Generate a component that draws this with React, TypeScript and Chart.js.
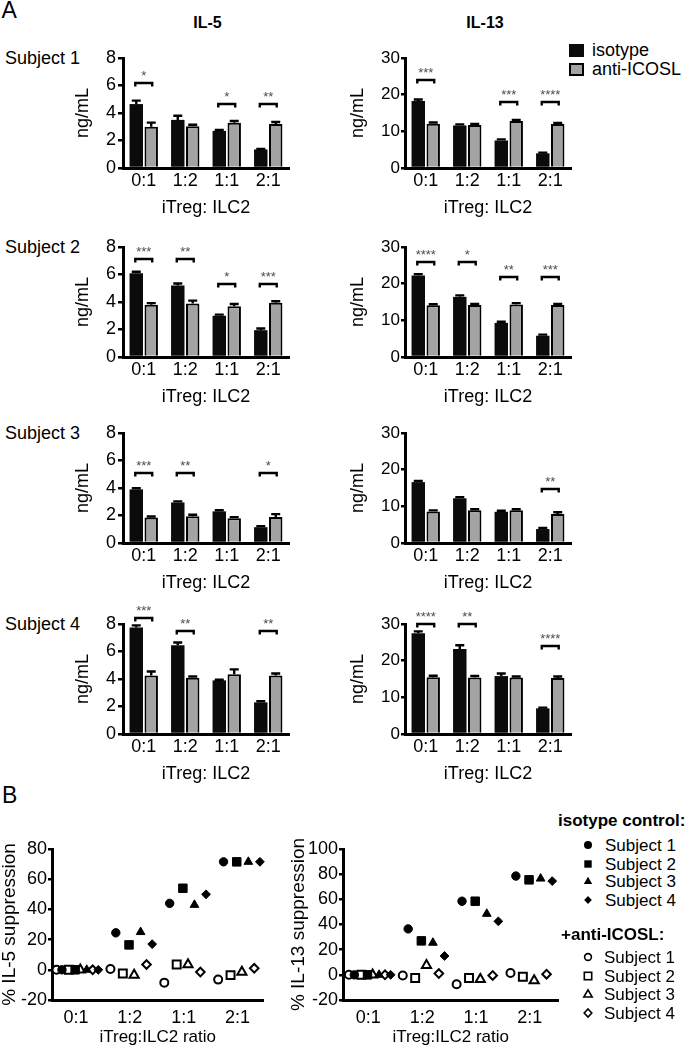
import React, { useEffect, useRef } from 'react';
import { Chart, registerables } from 'chart.js';

Chart.register(...registerables);

const FONT = '"Liberation Sans", Arial, Helvetica, sans-serif';
Chart.defaults.font.family = FONT;
Chart.defaults.color = '#000';

// ---------------- DATA ----------------
const RATIOS = ['0:1', '1:2', '1:1', '2:1'];
const SUBJECTS = ['Subject 1', 'Subject 2', 'Subject 3', 'Subject 4'];

// Panel A, IL-5 (ng/mL)
const IL5_S1_ISO = [4.65, 3.5, 2.7, 1.35];
const IL5_S1_ISO_ERR = [0.25, 0.3, 0.06, 0.04];
const IL5_S1_ANTI = [3.0, 3.03, 3.3, 3.2];
const IL5_S1_ANTI_ERR = [0.3, 0.12, 0.12, 0.15];
const IL5_S1_SIG = ['*', '', '*', '**'];
const IL5_S1_SIG_Y = [6.2, null, 4.65, 4.65];

const IL5_S2_ISO = [6.1, 5.2, 3.0, 1.95];
const IL5_S2_ISO_ERR = [0.1, 0.15, 0.08, 0.12];
const IL5_S2_ANTI = [3.8, 3.9, 3.7, 3.95];
const IL5_S2_ANTI_ERR = [0.12, 0.2, 0.15, 0.1];
const IL5_S2_SIG = ['***', '**', '*', '***'];
const IL5_S2_SIG_Y = [7.15, 7.15, 5.3, 5.3];

const IL5_S3_ISO = [3.9, 2.95, 2.3, 1.15];
const IL5_S3_ISO_ERR = [0.08, 0.08, 0.08, 0.08];
const IL5_S3_ANTI = [1.85, 1.95, 1.8, 1.9];
const IL5_S3_ANTI_ERR = [0.08, 0.1, 0.08, 0.2];
const IL5_S3_SIG = ['***', '**', '', '*'];
const IL5_S3_SIG_Y = [5.1, 5.1, null, 5.1];

const IL5_S4_ISO = [7.75, 6.45, 3.9, 2.3];
const IL5_S4_ISO_ERR = [0.15, 0.2, 0.05, 0.08];
const IL5_S4_ANTI = [4.25, 4.1, 4.35, 4.25];
const IL5_S4_ANTI_ERR = [0.3, 0.08, 0.35, 0.15];
const IL5_S4_SIG = ['***', '**', '', '**'];
const IL5_S4_SIG_Y = [8.4, 7.5, null, 7.5];

// Panel A, IL-13 (ng/mL)
const IL13_S1_ISO = [18.3, 11.6, 7.5, 4.0];
const IL13_S1_ISO_ERR = [0.4, 0.3, 0.3, 0.2];
const IL13_S1_ANTI = [12.1, 11.7, 12.8, 12.0];
const IL13_S1_ANTI_ERR = [0.3, 0.3, 0.3, 0.3];
const IL13_S1_SIG = ['***', '', '***', '****'];
const IL13_S1_SIG_Y = [24, null, 18.1, 18.1];

const IL13_S2_ISO = [22.2, 16.4, 9.3, 5.8];
const IL13_S2_ISO_ERR = [0.4, 0.4, 0.3, 0.3];
const IL13_S2_ANTI = [14.1, 14.2, 14.3, 14.2];
const IL13_S2_ANTI_ERR = [0.3, 0.3, 0.4, 0.3];
const IL13_S2_SIG = ['****', '*', '**', '***'];
const IL13_S2_SIG_Y = [25.8, 25.8, 21.9, 21.9];

const IL13_S3_ISO = [16.6, 12.2, 8.5, 3.8];
const IL13_S3_ISO_ERR = [0.3, 0.3, 0.3, 0.3];
const IL13_S3_ANTI = [8.6, 8.9, 8.9, 7.9];
const IL13_S3_ANTI_ERR = [0.3, 0.3, 0.3, 0.5];
const IL13_S3_SIG = ['', '', '', '**'];
const IL13_S3_SIG_Y = [null, null, null, 14.6];

const IL13_S4_ISO = [27.5, 23.2, 15.8, 7.0];
const IL13_S4_ISO_ERR = [0.5, 1.0, 0.7, 0.2];
const IL13_S4_ANTI = [15.5, 15.4, 15.4, 15.3];
const IL13_S4_ANTI_ERR = [0.4, 0.4, 0.3, 0.4];
const IL13_S4_SIG = ['****', '**', '', '****'];
const IL13_S4_SIG_Y = [30, 30, null, 24];

// Panel B, % suppression
const SUP5_ISO_S1 = [0, 24.5, 44, 71.5];
const SUP5_ISO_S2 = [0, 16.5, 54, 71.5];
const SUP5_ISO_S3 = [0, 25, 43, 71.5];
const SUP5_ISO_S4 = [0, 17, 50, 71.5];
const SUP5_ANTI_S1 = [0, 0.5, -8.5, -6.5];
const SUP5_ANTI_S2 = [0, -2.5, 3.5, -3.5];
const SUP5_ANTI_S3 = [0, -3.5, 3.5, -1.5];
const SUP5_ANTI_S4 = [0, 3.5, -1.5, 1];

const SUP13_ISO_S1 = [0, 36.5, 58.5, 78.5];
const SUP13_ISO_S2 = [0, 27, 58.5, 75.5];
const SUP13_ISO_S3 = [0, 25.5, 48.5, 76.5];
const SUP13_ISO_S4 = [0, 15, 42.5, 74.5];
const SUP13_ANTI_S1 = [0, -0.5, -7.5, 1.5];
const SUP13_ANTI_S2 = [0, -2.5, -2.5, -1.5];
const SUP13_ANTI_S3 = [0, 7.5, -3.5, -4.5];
const SUP13_ANTI_S4 = [0, 1, -0.5, 0.5];

// ---------------- grouping ----------------
const IL5_ISO = [IL5_S1_ISO, IL5_S2_ISO, IL5_S3_ISO, IL5_S4_ISO];
const IL5_ISO_ERR = [IL5_S1_ISO_ERR, IL5_S2_ISO_ERR, IL5_S3_ISO_ERR, IL5_S4_ISO_ERR];
const IL5_ANTI = [IL5_S1_ANTI, IL5_S2_ANTI, IL5_S3_ANTI, IL5_S4_ANTI];
const IL5_ANTI_ERR = [IL5_S1_ANTI_ERR, IL5_S2_ANTI_ERR, IL5_S3_ANTI_ERR, IL5_S4_ANTI_ERR];
const IL5_SIG = [IL5_S1_SIG, IL5_S2_SIG, IL5_S3_SIG, IL5_S4_SIG];
const IL5_SIG_Y = [IL5_S1_SIG_Y, IL5_S2_SIG_Y, IL5_S3_SIG_Y, IL5_S4_SIG_Y];

const IL13_ISO = [IL13_S1_ISO, IL13_S2_ISO, IL13_S3_ISO, IL13_S4_ISO];
const IL13_ISO_ERR = [IL13_S1_ISO_ERR, IL13_S2_ISO_ERR, IL13_S3_ISO_ERR, IL13_S4_ISO_ERR];
const IL13_ANTI = [IL13_S1_ANTI, IL13_S2_ANTI, IL13_S3_ANTI, IL13_S4_ANTI];
const IL13_ANTI_ERR = [IL13_S1_ANTI_ERR, IL13_S2_ANTI_ERR, IL13_S3_ANTI_ERR, IL13_S4_ANTI_ERR];
const IL13_SIG = [IL13_S1_SIG, IL13_S2_SIG, IL13_S3_SIG, IL13_S4_SIG];
const IL13_SIG_Y = [IL13_S1_SIG_Y, IL13_S2_SIG_Y, IL13_S3_SIG_Y, IL13_S4_SIG_Y];

const SUP5_ISO = [SUP5_ISO_S1, SUP5_ISO_S2, SUP5_ISO_S3, SUP5_ISO_S4];
const SUP5_ANTI = [SUP5_ANTI_S1, SUP5_ANTI_S2, SUP5_ANTI_S3, SUP5_ANTI_S4];
const SUP13_ISO = [SUP13_ISO_S1, SUP13_ISO_S2, SUP13_ISO_S3, SUP13_ISO_S4];
const SUP13_ANTI = [SUP13_ANTI_S1, SUP13_ANTI_S2, SUP13_ANTI_S3, SUP13_ANTI_S4];

// ---------------- styling / layout ----------------
const ISO_COLOR = '#0b0b0b';
const ANTI_COLOR = '#a3a3a3';
const STAR_COLOR = '#4b4b57';
const ROW_TOP = [58, 247, 433, 624];
const PAD_TOP = 30;
const PLOT_H = 110;
const X_H = 51;

const SHAPES = ['circle', 'rect', 'triangle', 'rectRot'];
const FILLED_R = [4.2, 6.0, 5.0, 4.4];
const OPEN_R = [4.0, 5.6, 5.3, 4.3];
const FILLED_OFF = [-0.26, -0.015, 0.2, 0.415];
const OPEN_OFF = [-0.36, -0.13, 0.08, 0.31];

function makeBarExtras(sig: string[], sigY: (number | null)[]) {
  return {
    id: 'barExtras',
    afterDatasetsDraw(chart: any) {
      const { ctx } = chart;
      const yScale = chart.scales.y;
      ctx.save();
      ctx.strokeStyle = '#000';
      ctx.lineWidth = 2.4;
      chart.data.datasets.forEach((ds: any, di: number) => {
        const meta = chart.getDatasetMeta(di);
        meta.data.forEach((bar: any, i: number) => {
          const e = ds.errors ? ds.errors[i] : 0;
          if (!e) return;
          const y0 = yScale.getPixelForValue(ds.data[i]);
          const y1 = yScale.getPixelForValue(ds.data[i] + e);
          ctx.beginPath();
          ctx.moveTo(bar.x, y0);
          ctx.lineTo(bar.x, y1);
          ctx.moveTo(bar.x - 4.5, y1);
          ctx.lineTo(bar.x + 4.5, y1);
          ctx.stroke();
        });
      });
      const m0 = chart.getDatasetMeta(0);
      const m1 = chart.getDatasetMeta(1);
      sig.forEach((label, i) => {
        const h = sigY[i];
        if (!label || h == null) return;
        const y = Math.round(yScale.getPixelForValue(h));
        const x1 = m0.data[i].x - 1;
        const x2 = m1.data[i].x + 1;
        ctx.strokeStyle = '#000';
        ctx.lineWidth = 2.4;
        ctx.beginPath();
        ctx.moveTo(x1, y + 3.5);
        ctx.lineTo(x1, y);
        ctx.lineTo(x2, y);
        ctx.lineTo(x2, y + 3.5);
        ctx.stroke();
        ctx.fillStyle = STAR_COLOR;
        ctx.font = `13px ${FONT}`;
        ctx.textAlign = 'center';
        ctx.textBaseline = 'alphabetic';
        ctx.fillText(label, (x1 + x2) / 2, y - 3);
      });
      ctx.restore();
    },
  };
}

function barConfig(
  iso: number[], isoErr: number[], anti: number[], antiErr: number[],
  sig: string[], sigY: (number | null)[],
  yMax: number, yStep: number, yWidth: number, tickLen: number, tickPad: number, tickSize: number
): any {
  return {
    type: 'bar',
    data: {
      labels: RATIOS,
      datasets: [
        { label: 'isotype', data: iso, errors: isoErr, backgroundColor: ISO_COLOR, borderColor: '#000', borderWidth: 0 },
        { label: 'anti-ICOSL', data: anti, errors: antiErr, backgroundColor: ANTI_COLOR, borderColor: '#000', borderWidth: 2 },
      ],
    },
    options: {
      animation: false,
      responsive: false,
      devicePixelRatio: 1,
      layout: { padding: { top: PAD_TOP, right: 3, bottom: 0, left: 0 } },
      plugins: { legend: { display: false }, tooltip: { enabled: false } },
      datasets: { bar: { categoryPercentage: 0.72, barPercentage: 0.9 } },
      scales: {
        x: {
          grid: { display: false, drawTicks: false },
          border: { display: true, color: '#000', width: 3 },
          ticks: { font: { size: 18 }, color: '#000', padding: 2, maxRotation: 0, autoSkip: false },
          title: { display: true, text: 'iTreg: ILC2', font: { size: 18 }, color: '#000', padding: 0 },
          afterFit: (s: any) => { s.height = X_H; },
        },
        y: {
          min: 0,
          max: yMax,
          ticks: { stepSize: yStep, font: { size: tickSize }, color: '#000', padding: tickPad },
          grid: { drawOnChartArea: false, drawTicks: true, tickLength: tickLen, color: '#000', lineWidth: 2.5 },
          border: { display: true, color: '#000', width: 3 },
          title: { display: true, text: 'ng/mL', font: { size: 18 }, color: '#000', padding: 0 },
          afterFit: (s: any) => { s.width = yWidth; },
        },
      },
    },
    plugins: [makeBarExtras(sig, sigY)],
  };
}

function scatterConfig(isoSets: number[][], antiSets: number[][], yMax: number, title: string, xMin: number, xMax: number, yWidth: number): any {
  const datasets: any[] = [];
  for (let s = 0; s < 4; s++) {
    datasets.push({
      label: 'isotype control ' + SUBJECTS[s],
      data: isoSets[s].map((v, i) => ({ x: i + FILLED_OFF[s], y: v })),
      pointStyle: SHAPES[s],
      pointRadius: FILLED_R[s],
      backgroundColor: '#000',
      borderColor: '#000',
      borderWidth: 1,
      clip: false,
    });
    datasets.push({
      label: '+anti-ICOSL ' + SUBJECTS[s],
      data: antiSets[s].map((v, i) => ({ x: i + OPEN_OFF[s], y: v })),
      pointStyle: SHAPES[s],
      pointRadius: OPEN_R[s],
      backgroundColor: '#fff',
      borderColor: '#000',
      borderWidth: 2,
      clip: false,
    });
  }
  return {
    type: 'scatter',
    data: { datasets },
    options: {
      animation: false,
      responsive: false,
      devicePixelRatio: 1,
      layout: { padding: { top: 12, right: 3, bottom: 0, left: 0 } },
      plugins: { legend: { display: false }, tooltip: { enabled: false } },
      scales: {
        x: {
          type: 'linear',
          min: xMin,
          max: xMax,
          afterBuildTicks: (s: any) => { s.ticks = RATIOS.map((_, i) => ({ value: i })); },
          grid: { display: false, drawTicks: false },
          border: { display: true, color: '#000', width: 3 },
          ticks: { font: { size: 18 }, color: '#000', padding: 7, autoSkip: false, maxRotation: 0, callback: (v: any) => RATIOS[v] },
          title: { display: true, text: 'iTreg:ILC2 ratio', font: { size: 17 }, color: '#000', padding: 0 },
          afterFit: (s: any) => { s.height = 48; },
        },
        y: {
          min: -20,
          max: yMax,
          ticks: { stepSize: 20, font: { size: 18 }, color: '#000', padding: 1 },
          grid: { drawOnChartArea: false, drawTicks: true, tickLength: 4, color: '#000', lineWidth: 2.5 },
          border: { display: true, color: '#000', width: 3 },
          title: { display: true, text: title, font: { size: 19, lineHeight: 1 }, color: '#000', padding: 0 },
          afterFit: (s: any) => { s.width = yWidth; },
        },
      },
    },
  };
}

function ChartBox({ left, top, width, height, config }: any) {
  const ref = useRef<HTMLCanvasElement>(null);
  useEffect(() => {
    const c = new Chart(ref.current as HTMLCanvasElement, config());
    return () => c.destroy();
  }, []);
  return (
    <canvas
      ref={ref}
      width={width}
      height={height}
      style={{ position: 'absolute', left, top, width, height, display: 'block' }}
    />
  );
}

function Txt({ x, y, size, bold, children, w, align }: any) {
  return (
    <div
      style={{
        position: 'absolute',
        left: x,
        top: y,
        width: w,
        textAlign: align || 'left',
        fontSize: size,
        fontWeight: bold ? 700 : 400,
        lineHeight: 1,
        fontFamily: FONT,
        whiteSpace: 'nowrap',
        color: '#000',
      }}
    >
      {children}
    </div>
  );
}

function Marker({ shape, filled, cx, cy }: any) {
  const c = 7;
  const fill = filled ? '#000' : '#fff';
  const sw = filled ? 0 : 1.6;
  let el: any = null;
  if (shape === 'circle') el = <circle cx={c} cy={c} r={filled ? 4 : 3.4} fill={fill} stroke="#000" strokeWidth={sw} />;
  if (shape === 'rect') el = <rect x={c - 3.7} y={c - 3.7} width={7.4} height={7.4} fill={fill} stroke="#000" strokeWidth={sw} />;
  if (shape === 'triangle') el = <polygon points={`${c},${c - 4.2} ${c + 4.2},${c + 3} ${c - 4.2},${c + 3}`} fill={fill} stroke="#000" strokeWidth={sw} />;
  if (shape === 'rectRot') el = <polygon points={`${c},${c - 4} ${c + 3.8},${c} ${c},${c + 4} ${c - 3.8},${c}`} fill={fill} stroke="#000" strokeWidth={sw} />;
  return (
    <svg width={14} height={14} style={{ position: 'absolute', left: cx - 7, top: cy - 7 }}>
      {el}
    </svg>
  );
}

const LEG_ISO_Y = [837, 855.5, 873, 891.5];
const LEG_ANTI_Y = [949, 968, 986, 1005];

export default function App() {
  return (
    <div style={{ position: 'absolute', left: 0, top: 0, width: 689, height: 1050, background: '#fff', overflow: 'hidden', fontFamily: FONT }}>
      <Txt x={1.5} y={-1} size={23}>A</Txt>
      <Txt x={157.5} y={15} size={16} bold w={100} align="center">IL-5</Txt>
      <Txt x={435} y={15} size={16} bold w={100} align="center">IL-13</Txt>

      {SUBJECTS.map((s, i) => (
        <Txt key={'sl' + i} x={5} y={ROW_TOP[i] - 9} size={18}>{s}</Txt>
      ))}

      {/* bar legend */}
      <div style={{ position: 'absolute', left: 569, top: 44, width: 15, height: 13, background: ISO_COLOR }} />
      <div style={{ position: 'absolute', left: 569, top: 63, width: 15, height: 13, background: ANTI_COLOR, border: '2px solid #000', boxSizing: 'border-box' }} />
      <Txt x={592} y={41} size={18}>isotype</Txt>
      <Txt x={592} y={60} size={18}>anti-ICOSL</Txt>

      {SUBJECTS.map((_, i) => (
        <ChartBox
          key={'il5' + i}
          left={72}
          top={ROW_TOP[i] - PAD_TOP}
          width={220}
          height={PAD_TOP + PLOT_H + X_H}
          config={() => barConfig(IL5_ISO[i], IL5_ISO_ERR[i], IL5_ANTI[i], IL5_ANTI_ERR[i], IL5_SIG[i], IL5_SIG_Y[i], 8, 2, 51, 5, 2, 18)}
        />
      ))}
      {SUBJECTS.map((_, i) => (
        <ChartBox
          key={'il13' + i}
          left={347}
          top={ROW_TOP[i] - PAD_TOP}
          width={227}
          height={PAD_TOP + PLOT_H + X_H}
          config={() => barConfig(IL13_ISO[i], IL13_ISO_ERR[i], IL13_ANTI[i], IL13_ANTI_ERR[i], IL13_SIG[i], IL13_SIG_Y[i], 30, 5, 58, 4, 1, 17)}
        />
      ))}

      <Txt x={2} y={784} size={23}>B</Txt>

      <ChartBox left={0} top={837} width={271} height={211} config={() => scatterConfig(SUP5_ISO, SUP5_ANTI, 80, '% IL-5 suppression', -0.445, 3.48, 52)} />
      <ChartBox left={289} top={837} width={277} height={211} config={() => scatterConfig(SUP13_ISO, SUP13_ANTI, 100, '% IL-13 suppression', -0.47, 3.53, 54)} />

      {/* scatter legend */}
      <Txt x={558} y={812} size={17} bold>isotype control:</Txt>
      {SUBJECTS.map((s, i) => (
        <React.Fragment key={'li' + i}>
          <Marker shape={SHAPES[i]} filled cx={588} cy={LEG_ISO_Y[i] + 8.3} />
          <Txt x={605} y={LEG_ISO_Y[i]} size={17}>{s}</Txt>
        </React.Fragment>
      ))}
      <Txt x={561} y={925.5} size={17} bold>+anti-ICOSL:</Txt>
      {SUBJECTS.map((s, i) => (
        <React.Fragment key={'la' + i}>
          <Marker shape={SHAPES[i]} cx={588} cy={LEG_ANTI_Y[i] + 8.3} />
          <Txt x={604} y={LEG_ANTI_Y[i]} size={17}>{s}</Txt>
        </React.Fragment>
      ))}
    </div>
  );
}
